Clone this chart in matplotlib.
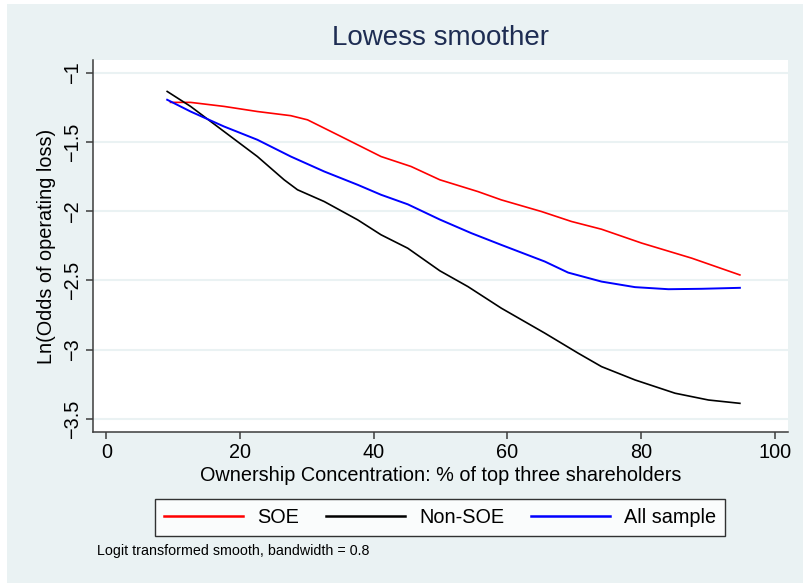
import matplotlib.pyplot as plt
from matplotlib.patches import Rectangle

plt.rcParams['font.family'] = ['Liberation Sans', 'DejaVu Sans']

# values
soe_x = [9.6, 12.6, 17.6, 22.6, 27.6, 30.1, 35.1, 41.1, 45.6, 49.9, 55.6,
         59.1, 65.1, 69.6, 74.1, 80.1, 87.6, 94.8]
soe_y = [-1.214, -1.214, -1.243, -1.28, -1.31, -1.34, -1.46, -1.605, -1.677,
         -1.773, -1.858, -1.918, -2.002, -2.074, -2.13, -2.23, -2.339, -2.46]

nonsoe_x = [9.1, 12.6, 17.6, 22.6, 26.6, 28.6, 32.6, 37.6, 41.1, 45.1, 49.9,
            54.1, 59.1, 65.6, 70.6, 74.1, 79.1, 85.1, 90.1, 94.8]
nonsoe_y = [-1.135, -1.243, -1.424, -1.605, -1.773, -1.845, -1.93, -2.062,
            -2.17, -2.267, -2.43, -2.544, -2.70, -2.88, -3.025, -3.122, -3.218,
            -3.314, -3.363, -3.387]

all_x = [9.1, 12.6, 17.6, 22.6, 27.6, 32.6, 37.6, 41.1, 45.1, 49.9, 54.6,
         59.1, 65.6, 69.1, 74.1, 79.1, 84.1, 89.1, 94.8]
all_y = [-1.195, -1.28, -1.388, -1.484, -1.605, -1.713, -1.809, -1.881,
         -1.95, -2.06, -2.158, -2.243, -2.363, -2.443, -2.508, -2.548, -2.563,
         -2.56, -2.553]

x_ticks = [0, 20, 40, 60, 80, 100]
y_ticks = [-1, -1.5, -2, -2.5, -3, -3.5]
y_labels = ['\u22121', '\u22121.5', '\u22122', '\u22122.5', '\u22123', '\u22123.5']

bg = '#EAF2F3'
axc = '#3C3C3C'

fig = plt.figure(figsize=(8.04, 5.83), dpi=100)
fig.patch.set_facecolor('white')
fig.patches.append(Rectangle((7 / 804, 0), 1, 579 / 583, transform=fig.transFigure,
                             facecolor=bg, edgecolor='none', zorder=-10))

ax = fig.add_axes([93 / 804, (583 - 432) / 583, (788 - 93) / 804, (432 - 60) / 583])
ax.set_facecolor('white')
ax.set_xlim(-2, 102)
ax.set_ylim(-3.594, -0.908)

for sp in ['top', 'right']:
    ax.spines[sp].set_visible(False)
for sp in ['left', 'bottom']:
    ax.spines[sp].set_color(axc)
    ax.spines[sp].set_linewidth(1.1)

ax.set_yticks(y_ticks)
ax.set_yticklabels(y_labels, rotation=90, va='center')
ax.set_xticks(x_ticks)
ax.tick_params(axis='both', colors=axc, labelcolor='black', length=5, width=1.1,
               labelsize=14.3, pad=3)
ax.grid(axis='y', color=bg, linewidth=1.5)
ax.set_axisbelow(True)

ax.plot(soe_x, soe_y, color='#FF0000', lw=1.2, label='SOE')
ax.plot(nonsoe_x, nonsoe_y, color='black', lw=1.2, label='Non-SOE')
ax.plot(all_x, all_y, color='#0000FF', lw=1.4, label='All sample')

ax.set_xlabel('Ownership Concentration: % of top three shareholders', fontsize=14.3,
              labelpad=3)
ax.set_ylabel('Ln(Odds of operating loss)', fontsize=14.3, labelpad=5)
ax.set_title('Lowess smoother', fontsize=20, color='#1E2D53', pad=11)

leg = fig.legend(loc='center', bbox_to_anchor=(440 / 804, 1 - 517.5 / 583), ncol=3,
                 fontsize=14.3, frameon=True, fancybox=False, handlelength=4.0,
                 handletextpad=0.7, columnspacing=1.35, borderpad=0.45,
                 edgecolor='black')
leg.get_frame().set_linewidth(1.0)
for h in leg.legend_handles:
    h.set_linewidth(1.8)

fig.text(97 / 804, 1 - 551 / 583, 'Logit transformed smooth, bandwidth = 0.8',
         fontsize=10.3, va='center', ha='left')

fig.savefig('out.png', dpi=100, facecolor=fig.get_facecolor())
